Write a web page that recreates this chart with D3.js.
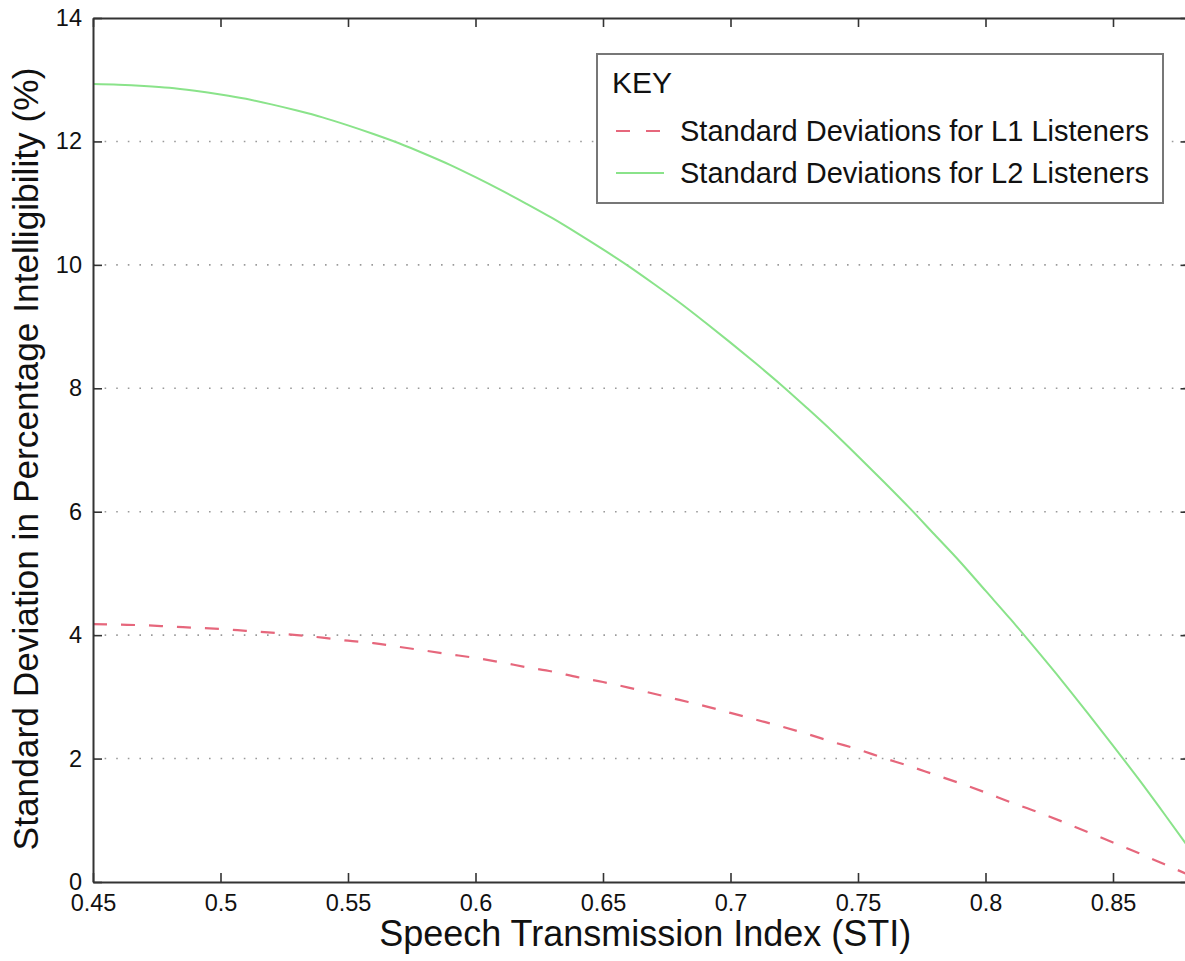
<!DOCTYPE html>
<html>
<head>
<meta charset="utf-8">
<script src="https://cdn.jsdelivr.net/npm/d3@7/dist/d3.min.js"></script>
<style>
  html, body { margin: 0; padding: 0; background: #fff; }
  svg { display: block; font-family: "Liberation Sans", Arial, Helvetica, sans-serif; }
</style>
</head>
<body>
<svg id="chart" width="1185" height="961"></svg>
<script>
// ---- data ----
const sti = [0.45,0.46,0.47,0.48,0.49,0.50,0.51,0.52,0.53,0.54,0.55,0.56,0.57,0.58,0.59,0.60,0.61,0.62,0.63,0.64,0.65,0.66,0.67,0.68,0.69,0.70,0.71,0.72,0.73,0.74,0.75,0.76,0.77,0.78,0.79,0.80,0.81,0.82,0.83,0.84,0.85,0.86,0.87,0.88];
const sdL1 = [4.18,4.17,4.16,4.14,4.12,4.10,4.07,4.04,4.00,3.96,3.91,3.87,3.81,3.75,3.69,3.63,3.56,3.48,3.41,3.32,3.24,3.15,3.05,2.95,2.85,2.74,2.63,2.52,2.40,2.27,2.15,2.01,1.88,1.74,1.60,1.45,1.29,1.14,0.98,0.81,0.64,0.47,0.29,0.11];
const sdL2 = [12.93,12.92,12.90,12.87,12.82,12.76,12.69,12.60,12.50,12.39,12.26,12.12,11.97,11.80,11.62,11.42,11.21,10.99,10.76,10.51,10.25,9.98,9.69,9.39,9.07,8.74,8.40,8.05,7.68,7.30,6.90,6.49,6.07,5.63,5.19,4.72,4.25,3.76,3.26,2.74,2.21,1.67,1.11,0.54];
const xTicks = [0.45,0.5,0.55,0.6,0.65,0.7,0.75,0.8,0.85];
const yTicks = [0,2,4,6,8,10,12,14];
const seriesNames = ["Standard Deviations for L1 Listeners", "Standard Deviations for L2 Listeners"];
const legendTitle = "KEY";
const xLabel = "Speech Transmission Index (STI)";
const yLabel = "Standard Deviation in Percentage Intelligibility (%)";

// ---- layout ----
const svg = d3.select("#chart");
const L = 93, R = 1189.5, T = 18, B = 882;
const x = d3.scaleLinear().domain([0.45, 0.88]).range([L, R]);
const y = d3.scaleLinear().domain([0, 14]).range([B, T]);
const axisColor = "#333";
const redC = "#e6677c", greenC = "#8ae38a";

svg.append("rect").attr("width", 1185).attr("height", 961).attr("fill", "#fff");

// grid (horizontal dotted)
svg.append("g").selectAll("line").data(yTicks.filter(d => d > 0 && d < 14)).join("line")
  .attr("x1", L).attr("x2", R)
  .attr("y1", d => y(d)).attr("y2", d => y(d))
  .attr("stroke", "#9a9a9a").attr("stroke-width", 1.6)
  .attr("stroke-dasharray", "1.6,10");

// curves
const line = d3.line().x((d, i) => x(sti[i])).y(d => y(d)).curve(d3.curveMonotoneX);
svg.append("path").datum(sdL2).attr("d", line)
  .attr("fill", "none").attr("stroke", greenC).attr("stroke-width", 2);
svg.append("path").datum(sdL1).attr("d", line)
  .attr("fill", "none").attr("stroke", redC).attr("stroke-width", 2.2)
  .attr("stroke-dasharray", "14,14");

// axes with inward ticks
const tickLen = 9;
const fmt = d => String(d);
const gB = svg.append("g").attr("transform", `translate(0,${B})`)
  .call(d3.axisBottom(x).tickValues(xTicks).tickFormat(fmt).tickSizeInner(-tickLen).tickSizeOuter(0).tickPadding(12));
const gT = svg.append("g").attr("transform", `translate(0,${T})`)
  .call(d3.axisTop(x).tickValues(xTicks).tickFormat("").tickSizeInner(-tickLen).tickSizeOuter(0));
const gLft = svg.append("g").attr("transform", `translate(${L},0)`)
  .call(d3.axisLeft(y).tickValues(yTicks).tickFormat(fmt).tickSizeInner(-tickLen).tickSizeOuter(0).tickPadding(11));
const gRt = svg.append("g").attr("transform", `translate(${R},0)`)
  .call(d3.axisRight(y).tickValues(yTicks).tickFormat("").tickSizeInner(-tickLen).tickSizeOuter(0));
[gB, gT, gLft, gRt].forEach(g => {
  g.select(".domain").attr("stroke", axisColor).attr("stroke-width", 2);
  g.selectAll(".tick line").attr("stroke", axisColor).attr("stroke-width", 1.6);
  g.selectAll(".tick text").attr("fill", "#111").attr("font-size", 23.5)
    .attr("font-family", '"Liberation Sans", Arial, sans-serif');
});
gB.selectAll(".tick text").attr("dy", "0.71em");

// axis labels
svg.append("text").attr("x", (L + R) / 2 + 4).attr("y", 946)
  .attr("text-anchor", "middle").attr("font-size", 36).attr("fill", "#111").text(xLabel);
svg.append("text").attr("transform", `translate(38,459) rotate(-90)`)
  .attr("text-anchor", "middle").attr("font-size", 35.3).attr("fill", "#111").text(yLabel);

// legend
const lg = svg.append("g");
lg.append("rect").attr("x", 597).attr("y", 54).attr("width", 566).attr("height", 149)
  .attr("fill", "#fff").attr("stroke", "#777").attr("stroke-width", 2);
lg.append("text").attr("x", 612).attr("y", 93).attr("font-size", 30).attr("fill", "#111").text(legendTitle);
const entries = [
  { name: seriesNames[0], color: redC, dash: "14,16", yy: 131 },
  { name: seriesNames[1], color: greenC, dash: null, yy: 173 }
];
entries.forEach(e => {
  lg.append("line").attr("x1", 616).attr("x2", 664).attr("y1", e.yy).attr("y2", e.yy)
    .attr("stroke", e.color).attr("stroke-width", 2)
    .attr("stroke-dasharray", e.dash);
  lg.append("text").attr("x", 680).attr("y", e.yy + 10).attr("font-size", 29)
    .attr("fill", "#111").text(e.name);
});
</script>
</body>
</html>
